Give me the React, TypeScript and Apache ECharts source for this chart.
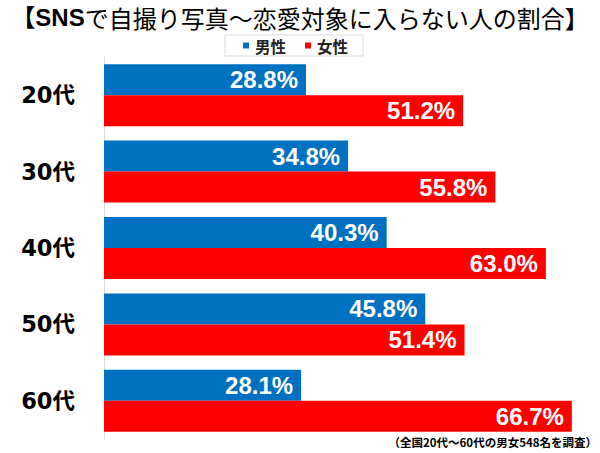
import React, { useEffect, useRef } from "react";
import * as echarts from "echarts";

const categories = ["20代", "30代", "40代", "50代", "60代"];
const maleValues = [28.8, 34.8, 40.3, 45.8, 28.1];
const femaleValues = [51.2, 55.8, 63.0, 51.4, 66.7];
const seriesNames = ["男性", "女性"];
const titleBold = "【SNS";
const titleRest = "で自撮り写真～恋愛対象に入らない人の割合】";
const footnote = "（全国20代～60代の男女548名を調査）";

const CJK = '"Noto Sans CJK JP", "Noto Sans", sans-serif';
const LATIN_CJK = '"Liberation Sans", Arial, "Noto Sans CJK JP", sans-serif';

export default function App() {
  const ref = useRef<HTMLDivElement>(null);
  useEffect(() => {
    if (!ref.current) return;
    const chart = echarts.init(ref.current, undefined, { renderer: "svg" });
    const labelOpt = {
      show: true,
      position: "insideRight",
      distance: 8,
      color: "#fff",
      fontSize: 24,
      fontWeight: "bold",
      fontFamily: '"Liberation Sans", Arial, sans-serif',
      formatter: (p: any) => Number(p.value).toFixed(1) + "%",
    };
    chart.setOption({
      animation: false,
      backgroundColor: "#fff",
      title: {
        text: "{b|" + titleBold + "}{n|" + titleRest + "}",
        left: "center",
        top: 3,
        padding: 0,
        textStyle: {
          rich: {
            b: { fontSize: 24, lineHeight: 28, fontWeight: "bold", color: "#000", fontFamily: LATIN_CJK },
            n: { fontSize: 24, lineHeight: 28, fontWeight: "normal", color: "#000", fontFamily: CJK },
          },
        },
      },
      legend: {
        data: seriesNames,
        top: 35,
        left: 225,
        itemWidth: 6,
        itemHeight: 6,
        itemGap: 19,
        padding: [2, 15, 2, 18],
        borderColor: "#d9d9d9",
        borderWidth: 1,
        icon: "rect",
        textStyle: {
          fontSize: 15.5,
          lineHeight: 17,
          fontWeight: "bold",
          color: "#222",
          fontFamily: CJK,
          padding: [0, 0, 0, 1],
        },
      },
      grid: { left: 104, right: 5, top: 57, height: 382, containLabel: false },
      xAxis: {
        type: "value",
        min: 0,
        max: 70,
        show: false,
      },
      yAxis: {
        type: "category",
        data: categories,
        inverse: true,
        axisLine: { show: true, lineStyle: { color: "#d9d9d9", width: 1 } },
        axisTick: { show: false },
        axisLabel: {
          margin: 29,
          fontSize: 22.5,
          fontWeight: "bold",
          color: "#000",
          fontFamily: '"DejaVu Sans", "Noto Sans CJK JP", sans-serif',
        },
      },
      series: [
        {
          name: seriesNames[0],
          type: "bar",
          data: maleValues,
          barWidth: 31,
          barGap: "0%",
          itemStyle: { color: "#0070C0" },
          label: labelOpt,
        },
        {
          name: seriesNames[1],
          type: "bar",
          data: femaleValues,
          barWidth: 31,
          barGap: "0%",
          itemStyle: { color: "#FF0000" },
          label: labelOpt,
        },
      ],
      graphic: [
        {
          type: "text",
          right: 3,
          top: 436,
          style: {
            text: footnote,
            fontSize: 11.5,
            fontWeight: "bold",
            fill: "#000",
            fontFamily: CJK,
          },
        },
      ],
    });
    return () => chart.dispose();
  }, []);
  return <div ref={ref} style={{ width: 600, height: 453, position: "absolute", left: 0, top: 0 }} />;
}
